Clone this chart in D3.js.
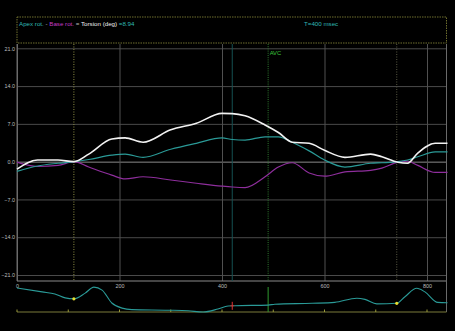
<!DOCTYPE html>
<html>
<head>
<meta charset="utf-8">
<script src="https://cdn.jsdelivr.net/npm/d3@7/dist/d3.min.js"></script>
<style>
  html, body { margin: 0; padding: 0; background: #000; }
  svg { display: block; }
  text { font-family: "Liberation Sans", "DejaVu Sans", sans-serif; }
</style>
</head>
<body>
<svg id="chart" width="455" height="331"></svg>
<script>
// Time samples (ms) shared by the three rotation traces
const timesMs = [0, 40, 80, 111, 140, 185, 211, 246, 300, 350, 400, 420, 445, 484, 510, 537, 570, 600, 640, 690, 712, 743, 762, 782, 816, 840];
// Apical rotation (deg)
const apexRot = [-1.8, -0.8, -0.3, 0, 0.4, 1.2, 1.4, 0.8, 2.3, 3.4, 4.4, 4.1, 4.0, 4.6, 4.6, 3.6, 2.0, 0.3, -1.0, -0.3, -0.2, 0, 0.3, 0.9, 1.8, 1.8];
// Basal rotation (deg)
const baseRot = [-0.1, -0.9, -0.7, 0, -1.0, -2.5, -3.2, -2.8, -3.4, -4.0, -4.54, -4.7, -4.8, -2.8, -1.0, -0.2, -2.1, -2.7, -1.9, -1.6, -1.2, -0.1, 0.1, -0.7, -2.0, -2.0];
// Net torsion (deg)
const torsion = [-1.4, 0.3, 0.3, 0, 1.4, 4.2, 4.4, 3.6, 5.9, 7.1, 8.94, 8.9, 8.5, 6.8, 5.4, 3.6, 3.4, 2.1, 0.8, 1.4, 0.9, -0.1, -0.3, 1.6, 3.4, 3.4];

// ECG strip (relative amplitude 0..1)
const ecgTimes = [0, 49, 74, 94, 111, 133, 150, 166, 185, 205, 224, 295, 334, 363, 392, 412, 425, 490, 503, 576, 620, 663, 679, 702, 741, 757, 780, 796, 821, 840];
const ecgAmp = [0.8, 0.67, 0.6, 0.47, 0.44, 0.63, 0.83, 0.73, 0.3, 0.13, 0.08, 0.06, 0.04, 0.0, 0.1, 0.2, 0.21, 0.23, 0.26, 0.29, 0.32, 0.46, 0.42, 0.27, 0.29, 0.51, 0.79, 0.67, 0.32, 0.31];

// Axis ticks
const yTicks = [21, 14, 7, 0, -7, -14, -21];
const xTicks = [0, 200, 400, 600, 800];
const ecgTicks = [0, 100, 200, 300, 400, 500, 600, 700, 800];

// Event markers (ms)
const frameMarks = [111, 741];
const cursorMs = 420;
const avcMs = 490;

// Readout
const readoutTorsion = 8.94;
const readoutTime = 400;

const svg = d3.select("#chart");
const left = 17, right = 446.5;
const plotTop = 44, plotBottom = 281;
const ecgTop = 282, ecgBottom = 312;

const x = d3.scaleLinear().domain([0, 840]).range([left, left + 840 * 0.5125]);
const y = d3.scaleLinear().domain([-21, 21]).range([275, 48.3]);
const ey = d3.scaleLinear().domain([0, 1]).range([ecgBottom, ecgTop]);

svg.append("rect").attr("width", 455).attr("height", 331).attr("fill", "#000");

// Header box
svg.append("rect")
  .attr("x", left).attr("y", 17).attr("width", right - left).attr("height", 26)
  .attr("fill", "none").attr("stroke", "#8a8a3a").attr("stroke-width", 0.8)
  .attr("stroke-dasharray", "1.5,1");

const hdr = svg.append("text").attr("x", 19).attr("y", 26).attr("font-size", 6.2);
hdr.append("tspan").attr("fill", "#2fb8b4").text("Apex rot.");
hdr.append("tspan").attr("fill", "#bbb").text(" - ");
hdr.append("tspan").attr("fill", "#c53cc5").text("Base rot.");
hdr.append("tspan").attr("fill", "#bbb").text(" = ");
hdr.append("tspan").attr("fill", "#eee").text("Torsion (deg)");
hdr.append("tspan").attr("fill", "#2fb8b4").text(" =" + readoutTorsion.toFixed(2));

svg.append("text").attr("x", 304).attr("y", 26).attr("font-size", 6.2)
  .attr("fill", "#2fb8b4").text("T=" + readoutTime + " msec");

// Horizontal grid + y labels
const yAxis = svg.append("g")
  .attr("transform", `translate(${left},0)`)
  .call(d3.axisLeft(y).tickValues(yTicks).tickFormat(d3.format(".1f"))
        .tickSize(-(right - left)).tickPadding(2));
yAxis.select(".domain").remove();
yAxis.selectAll(".tick line")
  .attr("stroke", d => d === 0 ? "#8a8a8a" : "#4a4a4a").attr("stroke-width", 1);
yAxis.selectAll(".tick text")
  .attr("fill", "#bdbdbd").attr("font-size", 5.4)
  .attr("font-family", "Liberation Sans, sans-serif");

// Vertical grid + x labels
const xAxis = svg.append("g")
  .attr("transform", `translate(0,${plotBottom})`)
  .call(d3.axisBottom(x).tickValues(xTicks).tickFormat(d3.format("d"))
        .tickSize(-(plotBottom - plotTop)).tickPadding(-2));
xAxis.select(".domain").remove();
xAxis.selectAll(".tick line")
  .attr("stroke", d => d === 0 ? "#6a6a6a" : "#505050").attr("stroke-width", 1);
xAxis.selectAll(".tick text")
  .attr("fill", "#bdbdbd").attr("font-size", 5.4).attr("dy", "0.9em")
  .attr("transform", "translate(0,4)").attr("font-family", "Liberation Sans, sans-serif");

// Plot frame lines
svg.append("line").attr("x1", left).attr("x2", right).attr("y1", plotBottom).attr("y2", plotBottom)
  .attr("stroke", "#8a8a8a").attr("stroke-width", 1);
svg.append("line").attr("x1", right).attr("x2", right).attr("y1", plotTop).attr("y2", ecgBottom)
  .attr("stroke", "#6a6a6a").attr("stroke-width", 1);
svg.append("line").attr("x1", left).attr("x2", left).attr("y1", plotTop).attr("y2", plotBottom)
  .attr("stroke", "#6a6a6a").attr("stroke-width", 1);

// Frame markers (dotted verticals)
svg.selectAll(".frameMark").data(frameMarks).join("line")
  .attr("x1", d => x(d)).attr("x2", d => x(d))
  .attr("y1", plotTop).attr("y2", plotBottom)
  .attr("stroke", (d, i) => i === 0 ? "#8d8d45" : "#5a5a45").attr("stroke-width", 1)
  .attr("stroke-dasharray", "1,1.5");

// Cursor line
svg.append("line").attr("x1", x(cursorMs)).attr("x2", x(cursorMs))
  .attr("y1", plotTop).attr("y2", plotBottom)
  .attr("stroke", "#145051").attr("stroke-width", 1);

// AVC marker
svg.append("line").attr("x1", x(avcMs)).attr("x2", x(avcMs))
  .attr("y1", plotTop).attr("y2", plotBottom)
  .attr("stroke", "#2f7a2f").attr("stroke-width", 1).attr("stroke-dasharray", "1,1.2");
svg.append("text").attr("x", x(avcMs) + 1.5).attr("y", 55).attr("font-size", 5.8)
  .attr("fill", "#3cc63c").text("AVC");

// Rotation traces
const line = (vals) => d3.line()
  .x((d, i) => x(timesMs[i]))
  .y(d => y(d))
  .curve(d3.curveMonotoneX)(vals);

svg.append("path").attr("d", line(baseRot)).attr("fill", "none")
  .attr("stroke", "#8e2e9c").attr("stroke-width", 1.2);
svg.append("path").attr("d", line(apexRot)).attr("fill", "none")
  .attr("stroke", "#2a9a97").attr("stroke-width", 1.2);
svg.append("path").attr("d", line(torsion)).attr("fill", "none")
  .attr("stroke", "#f2f2f2").attr("stroke-width", 1.6);

// ECG strip
svg.append("line").attr("x1", left).attr("x2", right).attr("y1", ecgBottom).attr("y2", ecgBottom)
  .attr("stroke", "#7a7a3a").attr("stroke-width", 1);
svg.selectAll(".ecgTick").data(ecgTicks).join("line")
  .attr("x1", d => x(d)).attr("x2", d => x(d))
  .attr("y1", ecgBottom).attr("y2", ecgBottom - 2.5)
  .attr("stroke", "#9a9a3a").attr("stroke-width", 1);

svg.append("line").attr("x1", x(avcMs)).attr("x2", x(avcMs))
  .attr("y1", 287).attr("y2", ecgBottom)
  .attr("stroke", "#2f9a2f").attr("stroke-width", 1);

const ecgLine = d3.line()
  .x((d, i) => x(ecgTimes[i]))
  .y(d => ey(d))
  .curve(d3.curveMonotoneX);
svg.append("path").attr("d", ecgLine(ecgAmp)).attr("fill", "none")
  .attr("stroke", "#2a9a97").attr("stroke-width", 1.1);

// Points on the ECG at the frame markers
const ecgAt = t => {
  const i = d3.bisectLeft(ecgTimes, t);
  if (ecgTimes[i] === t || i === 0) return ecgAmp[i];
  const t0 = ecgTimes[i - 1], t1 = ecgTimes[i];
  return ecgAmp[i - 1] + (ecgAmp[i] - ecgAmp[i - 1]) * (t - t0) / (t1 - t0);
};
svg.selectAll(".ecgDot").data(frameMarks).join("circle")
  .attr("cx", d => x(d)).attr("cy", d => ey(ecgAt(d))).attr("r", 1.6)
  .attr("fill", "#e8e030");

// Cursor mark on ECG
const cy = ey(ecgAt(cursorMs));
svg.append("line").attr("x1", x(cursorMs)).attr("x2", x(cursorMs))
  .attr("y1", cy - 4).attr("y2", cy + 4).attr("stroke", "#e03030").attr("stroke-width", 1);
svg.append("line").attr("x1", x(cursorMs) - 2).attr("x2", x(cursorMs) + 2)
  .attr("y1", cy).attr("y2", cy).attr("stroke", "#e03030").attr("stroke-width", 0.8);
</script>
</body>
</html>
